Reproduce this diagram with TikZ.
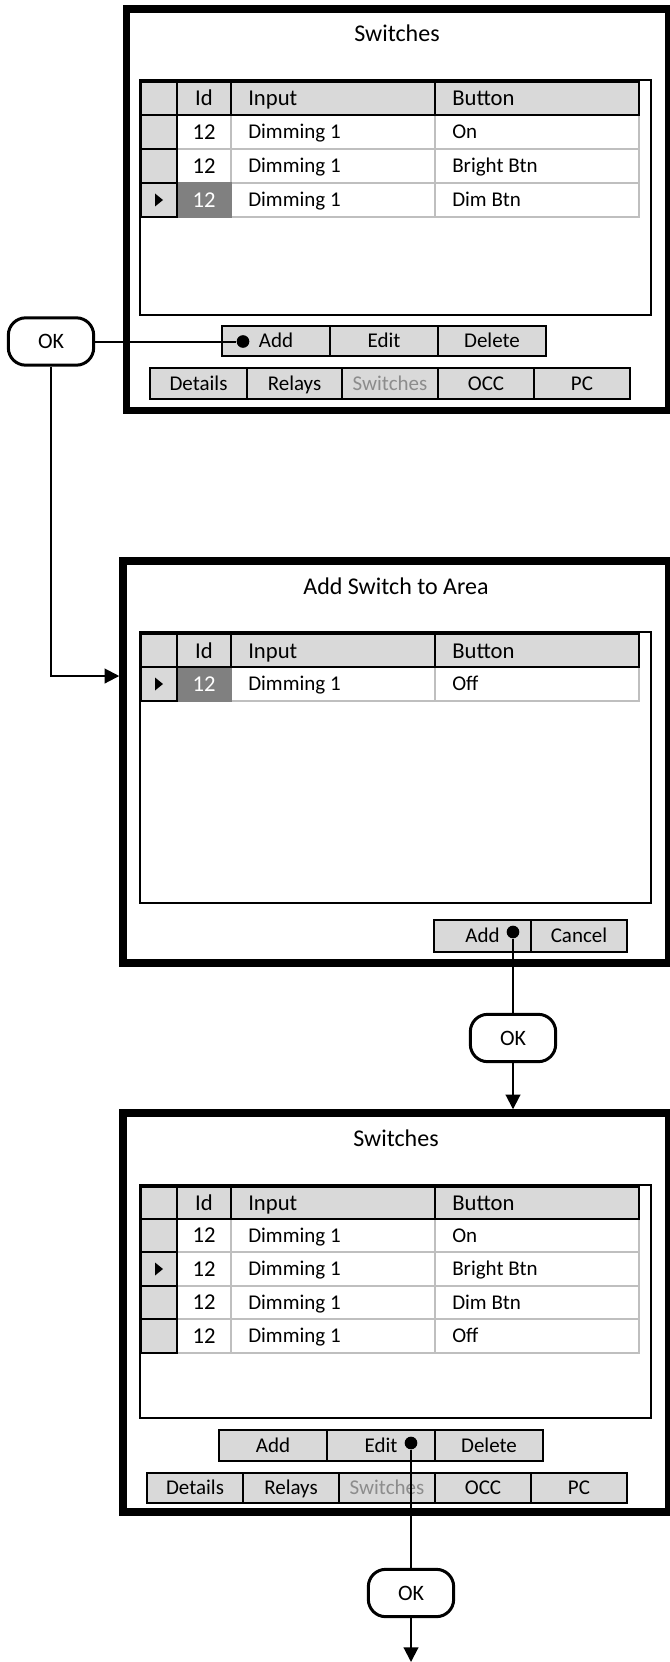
\documentclass[tikz,border=0pt]{standalone}
\usepackage{fontspec}
\setmainfont{Carlito}
\usepackage{tikz}
\usetikzlibrary{positioning, arrows.meta, fit, calc}

\definecolor{panelgray}{HTML}{D9D9D9}
\definecolor{selgray}{HTML}{808080}
\definecolor{gridgray}{HTML}{BFBFBF}
\definecolor{offtext}{HTML}{8C8C8C}

\begin{document}
\begin{tikzpicture}[
  x=0.75pt, y=-0.75pt,
  font=\fontsize{15.75}{19}\selectfont,
  frame/.style={draw, line width=5.6pt, inner sep=0pt},
  title/.style={font=\fontsize{18}{22}\selectfont},
  tbl/.style={draw, line width=1.2pt},
  hdr/.style={draw, fill=panelgray, line width=1.5pt},
  hdrtxt/.style={inner sep=0pt, anchor=base, font=\fontsize{17}{20}\selectfont},
  selcell/.style={draw, fill=panelgray, line width=1.5pt},
  datcell/.style={draw=gridgray, fill=white, line width=1.5pt},
  idcell/.style={draw=gridgray, fill=white, line width=1.5pt, inner sep=0pt,
    minimum width=40.5pt, text height=11pt, text depth=0pt,
    font=\fontsize{17}{20}\selectfont},
  idplain/.style={},
  idhot/.style={fill=selgray, draw=selgray, text=white},
  celltxt/.style={inner sep=0pt, anchor=base west},
  btn/.style={draw, fill=panelgray, line width=1.5pt, inner sep=0pt,
    text height=10pt, text depth=0pt},
  offtab/.style={btn, text=offtext},
  okbox/.style={draw, line width=2.25pt, rounded corners=13pt, fill=white,
    minimum width=64pt, minimum height=35.5pt, text height=10.5pt, text depth=0pt,
    font=\fontsize{16.5}{19}\selectfont},
  dot/.style={circle, fill, inner sep=0pt, minimum size=9.5pt},
  conn/.style={line width=1.5pt},
  arr/.style={conn, -{Triangle[length=11pt, width=11pt]}},
  pointer/.style={fill=black},
]
\useasboundingbox (0,0) rectangle (670,1662);

  % --- Switches list (before) ---
  \node[frame, fit={(126.5,9) (669,410.5)}] (win1) {};
  \node[title] (title1) at (397,33) {Switches};
  \draw[tbl] (140,80) rectangle (651,315);
  \foreach \ya/\yb/\lbl/\sty [count=\i] in
      {115/149/On/idplain, 149/183/Bright Btn/idplain, 183/217/Dim Btn/idhot} {
    \draw[datcell] (231,\ya) rectangle (435,\yb) (435,\ya) rectangle (639,\yb);
    \node[idcell, \sty, minimum height={(\yb-\ya)*0.75pt}] (w1id\i)
      at (204,{(\ya+\yb)/2}) {12};
    \draw[selcell] (141,\ya) rectangle (177,\yb);
    \node[celltxt] (w1in\i) at (248,{(\ya+\yb)/2+6.5}) {Dimming 1};
    \node[celltxt] (w1bt\i) at (452,{(\ya+\yb)/2+6.5}) {\lbl};
  }
  \foreach \xa/\xb in {141/177, 177/231, 231/435, 435/639}
    \draw[hdr] (\xa,82) rectangle (\xb,115);
  \node[hdrtxt] (w1hid) at (204,106) {Id};
  \node[hdrtxt, anchor=base west] (w1hin) at (248,106) {Input};
  \node[hdrtxt, anchor=base west] (w1hbt) at (452,106) {Button};
  \fill[pointer] (155,193.5) -- ++(8,6.5) -- ++(-8,6.5) -- cycle;

  \foreach \xa/\xb/\lbl [count=\i] in {222/330/Add, 330/438/Edit, 438/546/Delete}
    \node[btn, minimum width={(\xb-\xa)*0.75pt}, minimum height=22.5pt] (w1btn\i)
      at ({(\xa+\xb)/2},341) {\lbl};
  \foreach \xa/\xb/\lbl/\sty [count=\i] in
      {150/247/Details/btn, 247/342/Relays/btn, 342/438/Switches/offtab,
       438/534/OCC/btn, 534/630/PC/btn}
    \node[\sty, minimum width={(\xb-\xa)*0.75pt}, minimum height=23.25pt] (w1tab\i)
      at ({(\xa+\xb)/2},383.5) {\lbl};

  % --- Add Switch to Area ---
  \node[frame, fit={(123,561) (669,963)}] (win2) {};
  \node[title] (title2) at (396,586) {Add Switch to Area};
  \draw[tbl] (140,632) rectangle (651,903);
  \foreach \ya/\yb/\lbl/\sty [count=\i] in {667/701/Off/idhot} {
    \draw[datcell] (231,\ya) rectangle (435,\yb) (435,\ya) rectangle (639,\yb);
    \node[idcell, \sty, minimum height={(\yb-\ya)*0.75pt}] (w2id\i)
      at (204,{(\ya+\yb)/2}) {12};
    \draw[selcell] (141,\ya) rectangle (177,\yb);
    \node[celltxt] (w2in\i) at (248,{(\ya+\yb)/2+6.5}) {Dimming 1};
    \node[celltxt] (w2bt\i) at (452,{(\ya+\yb)/2+6.5}) {\lbl};
  }
  \foreach \xa/\xb in {141/177, 177/231, 231/435, 435/639}
    \draw[hdr] (\xa,634) rectangle (\xb,667);
  \node[hdrtxt] (w2hid) at (204,658) {Id};
  \node[hdrtxt, anchor=base west] (w2hin) at (248,658) {Input};
  \node[hdrtxt, anchor=base west] (w2hbt) at (452,658) {Button};
  \fill[pointer] (155,677.5) -- ++(8,6.5) -- ++(-8,6.5) -- cycle;

  \foreach \xa/\xb/\lbl [count=\i] in {434/531/Add, 531/627/Cancel}
    \node[btn, minimum width={(\xb-\xa)*0.75pt}, minimum height=24pt] (w2btn\i)
      at ({(\xa+\xb)/2},936) {\lbl};

  % --- Switches list (after) ---
  \node[frame, fit={(123,1113) (669,1512)}] (win3) {};
  \node[title] (title3) at (396,1138) {Switches};
  \draw[tbl] (140,1185) rectangle (651,1418);
  \foreach \ya/\yb/\lbl [count=\i] in
      {1219/1252/On, 1252/1286/Bright Btn, 1286/1319/Dim Btn, 1319/1353/Off} {
    \draw[datcell] (231,\ya) rectangle (435,\yb) (435,\ya) rectangle (639,\yb);
    \node[idcell, minimum height={(\yb-\ya)*0.75pt}] (w3id\i)
      at (204,{(\ya+\yb)/2}) {12};
    \draw[selcell] (141,\ya) rectangle (177,\yb);
    \node[celltxt] (w3in\i) at (248,{(\ya+\yb)/2+6.5}) {Dimming 1};
    \node[celltxt] (w3bt\i) at (452,{(\ya+\yb)/2+6.5}) {\lbl};
  }
  \foreach \xa/\xb in {141/177, 177/231, 231/435, 435/639}
    \draw[hdr] (\xa,1187) rectangle (\xb,1219);
  \node[hdrtxt] (w3hid) at (204,1210.5) {Id};
  \node[hdrtxt, anchor=base west] (w3hin) at (248,1210.5) {Input};
  \node[hdrtxt, anchor=base west] (w3hbt) at (452,1210.5) {Button};
  \fill[pointer] (155,1262.5) -- ++(8,6.5) -- ++(-8,6.5) -- cycle;

  \foreach \xa/\xb/\lbl [count=\i] in {219/327/Add, 327/435/Edit, 435/543/Delete}
    \node[btn, minimum width={(\xb-\xa)*0.75pt}, minimum height=23.25pt] (w3btn\i)
      at ({(\xa+\xb)/2},1445.5) {\lbl};
  \foreach \xa/\xb/\lbl/\sty [count=\i] in
      {147/243/Details/btn, 243/339/Relays/btn, 339/435/Switches/offtab,
       435/531/OCC/btn, 531/627/PC/btn}
    \node[\sty, minimum width={(\xb-\xa)*0.75pt}, minimum height=22.5pt] (w3tab\i)
      at ({(\xa+\xb)/2},1488) {\lbl};

  % --- flow ---
  \node[okbox] (ok1) at (51,341.5) {OK};
  \node[dot] (d1) at (243,341.5) {};
  \draw[conn] (ok1) -- (d1);
  \draw[arr] (ok1) |- ($(win2.north west)!0.29!(win2.south west)$);

  \node[dot] (d2) at (513,932) {};
  \node[okbox] (ok2) at (513,1038) {OK};
  \draw[conn] (d2) -- (ok2);
  \draw[arr] (ok2) -- (ok2 |- win3.north);

  \node[dot] (d3) at (411,1443) {};
  \node[okbox] (ok3) at (411,1593) {OK};
  \coordinate (out3) at (411,1662);
  \draw[conn] (d3) -- (ok3);
  \draw[arr] (ok3) -- (out3);
\end{tikzpicture}
\end{document}
